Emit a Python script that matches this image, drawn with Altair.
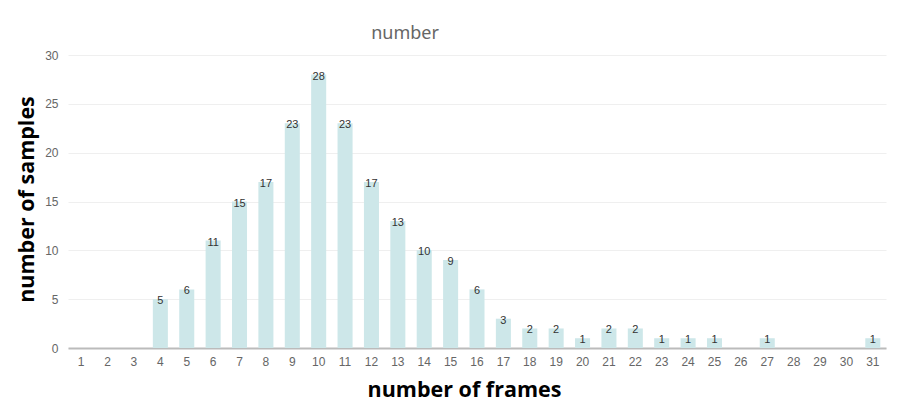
import altair as alt
import pandas as pd

frames = list(range(1, 32))
samples = [0, 0, 0, 5, 6, 11, 15, 17, 23, 28, 23, 17, 13, 10, 9, 6, 3, 2, 2, 1,
           2, 2, 1, 1, 1, 0, 1, 0, 0, 0, 1]

df = pd.DataFrame({"frames": frames, "samples": samples})
df["label"] = df["samples"].astype(str)

x_enc = alt.X("frames:O", sort=frames,
              scale=alt.Scale(paddingInner=0.43, paddingOuter=0.215),
              axis=alt.Axis(title="number of frames", labelAngle=0, ticks=False,
                            domainColor="#bbbbbb", domainWidth=2,
                            labelFont="Liberation Sans", labelFontSize=12,
                            labelColor="#666666", labelPadding=8,
                            titleFont="Open Sans", titleFontSize=21.5,
                            titleFontWeight="bold", titleColor="#000000",
                            titleBaseline="alphabetic", titleAnchor="middle",
                            titleX=396, titleY=48, grid=False))

bars = alt.Chart(df).mark_bar(color="#cde7e9").encode(
    x=x_enc,
    y=alt.Y("samples:Q", scale=alt.Scale(domain=[0, 30]),
            axis=alt.Axis(title="number of samples", values=[0, 5, 10, 15, 20, 25, 30],
                          ticks=False, domain=False, gridColor="#efefef",
                          labelFont="Liberation Sans", labelFontSize=12,
                          labelColor="#666666", labelPadding=10,
                          titleFont="Open Sans", titleFontSize=21.5,
                          titleFontWeight="bold", titleColor="#000000",
                          titleBaseline="middle", titleAnchor="middle",
                          titleX=-41, titleY=144)),
)

labels = alt.Chart(df[df["samples"] > 0]).mark_text(
    font="Liberation Sans", fontSize=11, color="#333333", baseline="middle", dy=2
).encode(
    x=alt.X("frames:O", sort=frames),
    y=alt.Y("samples:Q"),
    text="label:N",
)

chart = alt.layer(bars, labels).properties(
    width=818, height=293,
    autosize="none",
    padding={"left": 60, "top": 47, "right": 22, "bottom": 50},
    title=alt.TitleParams(text="number", fontSize=18, font="Noto Sans",
                          fontWeight="normal", color="#666666",
                          anchor="middle", dx=-72, offset=6),
).configure_view(stroke=None)

chart.save("out.html", embed_options={"renderer": "svg", "actions": False})
